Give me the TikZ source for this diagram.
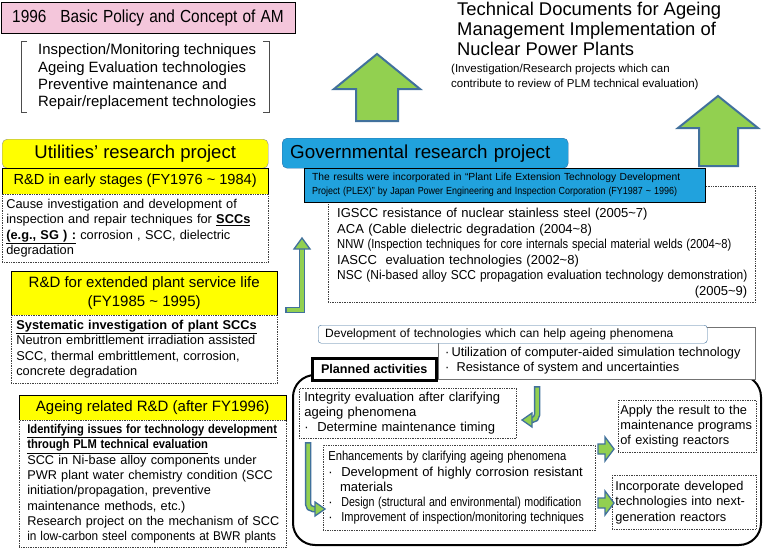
\documentclass[tikz,border=0pt]{standalone}
\usepackage{fontspec}
\setmainfont{Liberation Sans}
\usepackage{graphicx}
\usetikzlibrary{positioning,calc}
\definecolor{titlePink}{HTML}{F4C6DB}
\definecolor{projYellow}{HTML}{FFFF00}
\definecolor{govBlue}{HTML}{21A2DD}
\definecolor{govEdge}{HTML}{2E6FA8}
\definecolor{arrowGreen}{HTML}{92D050}
\definecolor{arrowEdge}{HTML}{41719C}
\newcommand{\fsz}[2]{\fontsize{#1}{#2}\selectfont}
\newcommand{\narrowline}[2]{\scalebox{#1}[1]{#2}}
\tikzset{
  yhead/.style={draw=black, fill=projYellow, inner sep=0pt, anchor=north west, align=center},
  dotbox/.style={draw=black!75, densely dotted, line width=0.7pt, fill=white, inner sep=0pt, anchor=north west},
  bigarrow/.style={fill=arrowGreen, draw=arrowEdge, line width=2pt, line join=miter},
  arrowouter/.style={draw=arrowEdge, line width=6.5pt},
  arrowinner/.style={draw=arrowGreen, line width=3.5pt},
  arrowtip/.style={fill=arrowGreen, draw=arrowEdge, line width=1.3pt, line join=miter},
}

\begin{document}
\begin{tikzpicture}[x=1pt,y=-1pt]
  \useasboundingbox (0,0) rectangle (764,554);

  % basic policy
  \node[draw=black, fill=titlePink, anchor=north west, inner sep=0pt, minimum width=294, minimum height=31,
        text width=272, align=left, font=\fsz{17.5}{20}] (title) at (1,2)
    {\narrowline{0.88}{1996\hspace{0.9em}Basic Policy and Concept of AM}};
  \node[anchor=west, inner sep=0pt, align=left, font=\fsz{14.9}{17.4}] (techlist) at (38,77)
    {Inspection/Monitoring techniques\\Ageing Evaluation technologies\\Preventive maintenance and\\Repair/replacement technologies};
  \draw[black!70, line width=0.8pt] (27,41) -- (21,41) -- (21,112) -- (27,112);
  \draw[black!70, line width=0.8pt] (263,41) -- (269,41) -- (269,112) -- (263,112);

  \node[anchor=north west, inner sep=0pt, align=left, font=\fsz{18.4}{20}] (docs) at (457,2)
    {Technical Documents for Ageing\\Management Implementation of\\Nuclear Power Plants};
  \node[anchor=north west, inner sep=0pt, align=left, font=\fsz{11.5}{15}] (docsnote) at (451,64)
    {(Investigation/Research projects which can\\contribute to review of PLM technical evaluation)};

  % big arrows
  \draw[bigarrow] (377,54) -- (420,89) -- (398,89) -- (398,121) -- (356,121) -- (356,89) -- (334,89) -- cycle;
  \draw[bigarrow] (718,96) -- (758,128) -- (738,128) -- (738,166) -- (699,166) -- (699,128) -- (678,128) -- cycle;

  % utilities
  \node[yhead, draw=black!45, rounded corners=5pt, minimum width=266, minimum height=29, font=\fsz{18.5}{21}] (utilhead) at (2,139) {Utilities’ research project};
  \node[yhead, minimum width=266, minimum height=26, font=\fsz{14.6}{18}] (early) at (2,168) {R\&D in early stages (FY1976 \textasciitilde{} 1984)};
  \node[dotbox, minimum width=266, minimum height=68, text width=258, align=left, font=\fsz{12.8}{15.4}] (earlytxt) at (2,194)
    {Cause investigation and development of\\\mbox{inspection and repair techniques for \underline{\textbf{SCCs}}}\\\mbox{\underline{\textbf{(e.g., SG ) :}} corrosion , SCC, dielectric}\\degradation};
  \node[yhead, minimum width=266, minimum height=44, font=\fsz{15}{18.5}] (extended) at (11,271) {R\&D for extended plant service life\\(FY1985 \textasciitilde{} 1995)};
  \node[dotbox, minimum width=266, minimum height=68, text width=256, align=left, font=\fsz{12.8}{15.4}] (extendedtxt) at (11,315)
    {\mbox{\underline{\textbf{Systematic investigation of plant SCCs}}}\\\mbox{Neutron embrittlement irradiation assisted}\\SCC, thermal embrittlement, corrosion,\\concrete degradation};
  \node[yhead, minimum width=267, minimum height=25, font=\fsz{15}{18}] (ageing) at (19,395) {Ageing related R\&D (after FY1996)};
  \node[dotbox, minimum width=267, minimum height=127, text width=251, align=left, font=\fsz{12.7}{15.3}] (ageingtxt) at (19,420)
    {\narrowline{0.88}{\underline{\textbf{Identifying issues for technology development}}}\\
     \narrowline{0.88}{\underline{\textbf{through PLM technical evaluation}}}\\
     \mbox{SCC in Ni-base alloy components under}\\\mbox{PWR plant water chemistry condition (SCC}\\
     initiation/propagation, preventive\\maintenance methods, etc.)\\
     \mbox{Research project on the mechanism of SCC}\\\narrowline{0.93}{in low-carbon steel components at BWR plants}};

  % governmental
  \node[draw=govEdge, fill=govBlue, rounded corners=5pt, anchor=north west, inner sep=0pt, minimum width=286, minimum height=30,
        text width=270, align=left, font=\fsz{18.8}{21}] (govhead) at (282,138) {Governmental research project};
  \node[dotbox, minimum width=427, minimum height=116] (govbox) at (328,186) {};
  \node[draw=black, fill=govBlue, anchor=north west, inner sep=0pt, minimum width=401, minimum height=34,
        text width=385, align=left, font=\fsz{10.3}{14}] (plex) at (304,168)
    {\mbox{The results were incorporated in “Plant Life Extension Technology Development}\\
     \narrowline{0.87}{Project (PLEX)” by Japan Power Engineering and Inspection Corporation (FY1987 \textasciitilde{} 1996)}};
  \node[anchor=west, inner sep=0pt, text width=410, align=left, font=\fsz{13}{15.5}] (govlist) at (337,253)
    {IGSCC resistance of nuclear stainless steel (2005\textasciitilde7)\\ACA (Cable dielectric degradation (2004\textasciitilde8)\\
     \narrowline{0.86}{NNW (Inspection techniques for core internals special material welds (2004\textasciitilde8)}\\
     IASCC\ \ evaluation technologies (2002\textasciitilde8)\\
     \narrowline{0.92}{NSC (Ni-based alloy SCC propagation evaluation technology demonstration)}\\
     \makebox[\linewidth][r]{(2005\textasciitilde9)}};

  % L arrow to governmental list
  \draw[arrowouter] (285,310) -- (302,310) -- (302,248);
  \draw[arrowinner, shorten <=1.5pt] (285,310) -- (302,310) -- (302,248);
  \draw[arrowtip] (294,249) -- (302,238) -- (310,249) -- cycle;

  % planned activities
  \draw[line width=2pt, rounded corners=22pt] (293,375) rectangle (761,545);
  \node[draw=black!55, fill=white, anchor=north west, inner sep=0pt, minimum width=317, minimum height=52] (simbox) at (438,327) {};
  \node[anchor=west, inner sep=0pt, align=left, font=\fsz{12.8}{15.2}] (simtxt) at (445,360.5)
    {·\,Utilization of computer-aided simulation technology\\·\ \ Resistance of system and uncertainties};
  \node[draw=arrowEdge, fill=white, rounded corners=3pt, anchor=north west, inner sep=0pt, minimum width=389, minimum height=18,
        text width=375, align=left, font=\fsz{12}{15}] (devtech) at (318,325) {Development of technologies which can help ageing phenomena};
  \node[draw=black, line width=2.5pt, fill=white, anchor=north west, inner sep=0pt, minimum width=124, minimum height=22,
        font=\fsz{12.6}{15}\bfseries] (planned) at (311,357) {Planned activities};

  \node[dotbox, minimum width=217, minimum height=50, text width=207, align=left, font=\fsz{13}{15}] (integrity) at (299,388)
    {Integrity evaluation after clarifying\\ageing phenomena\\·\ \ Determine maintenance timing};
  \draw[arrowouter, rounded corners=5pt] (537,386) -- (537,420) -- (531,420);
  \draw[arrowinner, rounded corners=5pt, shorten <=1.5pt] (537,386) -- (537,420) -- (531,420);
  \draw[arrowtip] (532,413) -- (522,420) -- (532,427) -- cycle;

  \node[dotbox, minimum width=272, minimum height=85, text width=262, align=left, font=\fsz{13}{15.2}] (enhance) at (323,445)
    {\narrowline{0.86}{Enhancements by clarifying ageing phenomena}\\
     ·\ \ Development of highly corrosion resistant\\\hspace*{0.9em}materials\\
     ·\ \ \narrowline{0.82}{Design (structural and environmental) modification}\\
     ·\ \ \narrowline{0.85}{Improvement of inspection/monitoring techniques}};
  \draw[arrowouter, rounded corners=5pt] (308,442) -- (308,509) -- (315,509);
  \draw[arrowinner, rounded corners=5pt, shorten <=1.5pt] (308,442) -- (308,509) -- (315,509);
  \draw[arrowtip] (315,502) -- (325,509) -- (315,516) -- cycle;

  \node[dotbox, minimum width=138, minimum height=52, text width=134, align=left, font=\fsz{12.8}{15.2}] (apply) at (618,400)
    {Apply the result to the\\\mbox{maintenance programs}\\of existing reactors};
  \node[dotbox, minimum width=144, minimum height=54, text width=138, align=left, font=\fsz{12.8}{15.5}] (incorp) at (612,475)
    {Incorporate developed\\\mbox{technologies into next-}\\generation reactors};

  % small block arrows
  \draw[arrowtip] (598,444) -- (605,444) -- (605,437) -- (614,449) -- (605,461) -- (605,454) -- (598,454) -- cycle;
  \draw[arrowtip] (598,498) -- (605,498) -- (605,491) -- (614,503) -- (605,515) -- (605,508) -- (598,508) -- cycle;
\end{tikzpicture}
\end{document}
